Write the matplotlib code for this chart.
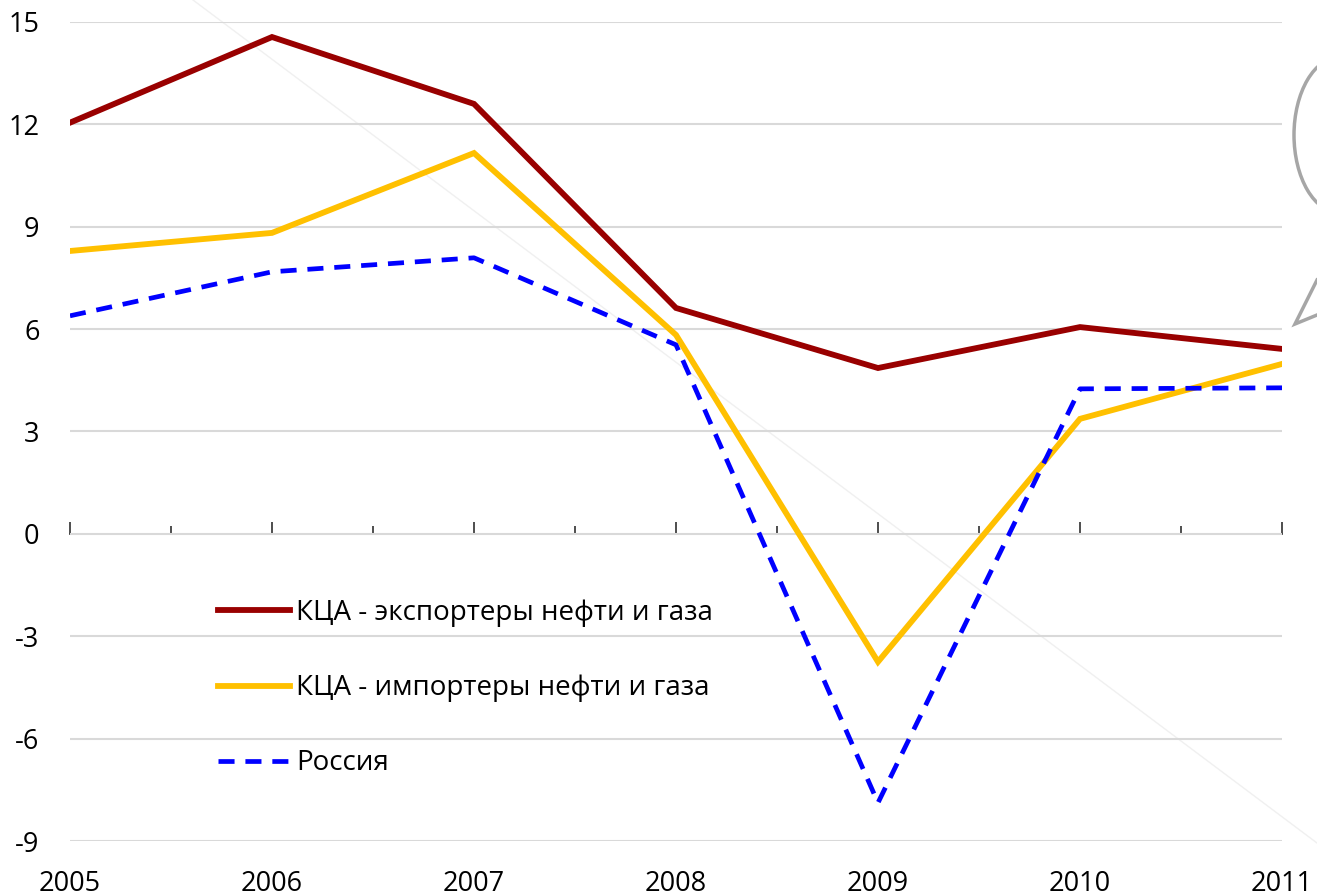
import matplotlib
matplotlib.use("Agg")
import matplotlib.pyplot as plt
from matplotlib.patches import Ellipse
from matplotlib.lines import Line2D

plt.rcParams['font.family'] = ['Open Sans', 'DejaVu Sans']

years = [2005, 2006, 2007, 2008, 2009, 2010, 2011]
exporters = [12.05, 14.56, 12.6, 6.62, 4.86, 6.06, 5.42]
importers = [8.29, 8.82, 11.16, 5.83, -3.75, 3.37, 4.98]
russia = [6.39, 7.68, 8.09, 5.54, -7.88, 4.25, 4.28]
labels = ["КЦА - экспортеры нефти и газа", "КЦА - импортеры нефти и газа", "Россия"]
yticks = [-9, -6, -3, 0, 3, 6, 9, 12, 15]

W, H = 1317, 896
fig = plt.figure(figsize=(W / 100, H / 100), dpi=100)

# faint decorative diagonal line (behind everything)
fig.add_artist(Line2D([193 / W, 1317 / W], [1, 1 - 843 / H], transform=fig.transFigure,
                      color='#f0f0f0', lw=1, zorder=0))

ax = fig.add_axes([70 / W, 1 - 841 / H, (1282 - 70) / W, (841 - 22) / H])
ax.set_facecolor('none')

FS = 19.5
ax.set_xlim(2005, 2011)
ax.set_ylim(-9, 15)
ax.set_yticks(yticks)
ax.set_yticklabels([str(v) for v in yticks])
ax.set_xticks(years)
ax.set_xticklabels([str(y) for y in years])
ax.tick_params(axis='both', length=0, labelsize=FS, colors='black')
ax.tick_params(axis='y', pad=22)
ax.tick_params(axis='x', pad=21)
for s in ax.spines.values():
    s.set_visible(False)
ax.grid(axis='y', color='#d9d9d9', linewidth=1.5)
ax.set_axisbelow(True)

# zero axis line with tick marks
sec = ax.secondary_xaxis(9 / 24)
sec.spines['bottom'].set_color('#404040')
sec.spines['bottom'].set_linewidth(1.3)
sec.set_xticks(years)
sec.set_xticks([y + 0.5 for y in years[:-1]], minor=True)
sec.tick_params(axis='x', which='major', direction='in', length=9, width=1.3, color='#404040', labelbottom=False)
sec.tick_params(axis='x', which='minor', direction='in', length=6, width=1.3, color='#404040', labelbottom=False)

ax.plot(years, exporters, color='#990000', lw=4.2, label=labels[0], solid_joinstyle='miter', zorder=3)
ax.plot(years, importers, color='#FFC000', lw=4.2, label=labels[1], solid_joinstyle='miter', zorder=3)
ax.plot(years, russia, color='#0000FF', lw=3.4, ls=(0, (3.4, 2.3)), label=labels[2], zorder=4)

leg = ax.legend(loc='upper left', bbox_to_anchor=(218 / W, 1 - 599 / H), bbox_transform=fig.transFigure,
                frameon=False, handlelength=2.6, handletextpad=0.2,
                labelspacing=1.7, borderpad=0, borderaxespad=0, prop={'size': 20})

# cut-off callout shape at the right edge
fig.add_artist(Ellipse((1340 / W, 1 - 135 / H), 92 / W, 156 / H, transform=fig.transFigure,
                       fill=False, edgecolor='#a6a6a6', lw=2.5))
fig.add_artist(Line2D([1317 / W, 1295 / W, 1317 / W], [1 - 280 / H, 1 - 324 / H, 1 - 315 / H],
                      transform=fig.transFigure, color='#a6a6a6', lw=2.5, solid_joinstyle='miter'))

fig.savefig('out.png', dpi=100)
